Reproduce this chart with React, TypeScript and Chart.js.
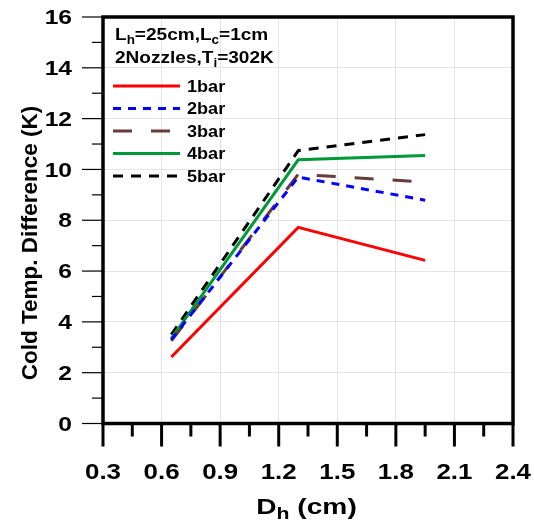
import { useEffect, useRef } from "react";
import { Chart, registerables } from "chart.js";

Chart.register(...registerables);

// ---- data ----
const dh = [0.65, 1.3, 1.95];
const bar1 = [2.62, 7.72, 6.42];
const bar2 = [3.3, 9.7, 8.79];
const bar3 = [3.25, 9.81, 9.5];
const bar4 = [3.35, 10.38, 10.55];
const bar5 = [3.5, 10.74, 11.37];
const seriesLabels = ["1bar", "2bar", "3bar", "4bar", "5bar"];
const xTicks = [0.3, 0.6, 0.9, 1.2, 1.5, 1.8, 2.1, 2.4];
const xTickLabels = ["0.3", "0.6", "0.9", "1.2", "1.5", "1.8", "2.1", "2.4"];
const xMinorTicks = [0.45, 0.75, 1.05, 1.35, 1.65, 1.95, 2.25];
const yTicks = [0, 2, 4, 6, 8, 10, 12, 14, 16];
const yTickLabels = ["0", "2", "4", "6", "8", "10", "12", "14", "16"];
const yMinorTicks = [1, 3, 5, 7, 9, 11, 13, 15];

// ---- styles ----
const colors = ["#ff0000", "#0000ff", "#663b3b", "#00993a", "#000000"];
const dashes = [[], [8, 7], [19, 19], [], [10, 8]];

type Part = { t: string; sub?: boolean };
const FONT = '"Liberation Sans", Arial, sans-serif';

function drawRich(
  ctx: CanvasRenderingContext2D,
  parts: Part[],
  x: number,
  y: number,
  o: { size: number; sub?: number; subDy?: number; sx: number; align: "left" | "center" | "right" }
) {
  const subSize = o.sub ?? o.size * 0.7;
  const subDy = o.subDy ?? 4;
  const widths = parts.map((p) => {
    ctx.font = `bold ${p.sub ? subSize : o.size}px ${FONT}`;
    return ctx.measureText(p.t).width;
  });
  const total = widths.reduce((a, b) => a + b, 0) * o.sx;
  const start = o.align === "left" ? x : o.align === "center" ? x - total / 2 : x - total;
  ctx.save();
  ctx.translate(start, y);
  ctx.scale(o.sx, 1);
  ctx.textAlign = "left";
  ctx.textBaseline = "alphabetic";
  ctx.fillStyle = "#000";
  let cx = 0;
  parts.forEach((p, i) => {
    ctx.font = `bold ${p.sub ? subSize : o.size}px ${FONT}`;
    ctx.fillText(p.t, cx, p.sub ? subDy : 0);
    cx += widths[i];
  });
  ctx.restore();
}

const decorPlugin = {
  id: "decor",
  afterDraw(chart: any) {
    const ctx: CanvasRenderingContext2D = chart.ctx;
    const xs = chart.scales.x;
    const ys = chart.scales.y;
    const { left, right, top, bottom } = chart.chartArea;
    ctx.save();
    // frame
    ctx.strokeStyle = "#000";
    ctx.lineWidth = 3.5;
    ctx.strokeRect(left, top, right - left, bottom - top);

    // bottom ticks
    ctx.lineWidth = 3;
    ctx.lineCap = "butt";
    xTicks.forEach((v) => {
      const px = xs.getPixelForValue(v);
      ctx.beginPath();
      ctx.moveTo(px, bottom);
      ctx.lineTo(px, bottom + 23);
      ctx.stroke();
    });
    xMinorTicks.forEach((v) => {
      const px = xs.getPixelForValue(v);
      ctx.beginPath();
      ctx.moveTo(px, bottom);
      ctx.lineTo(px, bottom + 13);
      ctx.stroke();
    });
    // left ticks
    ctx.lineWidth = 1.2;
    yTicks.forEach((v) => {
      const py = ys.getPixelForValue(v);
      ctx.beginPath();
      ctx.moveTo(left - 21, py);
      ctx.lineTo(left, py);
      ctx.stroke();
    });
    yMinorTicks.forEach((v) => {
      const py = ys.getPixelForValue(v);
      ctx.beginPath();
      ctx.moveTo(left - 11, py);
      ctx.lineTo(left, py);
      ctx.stroke();
    });

    // tick labels
    xTicks.forEach((v, i) => {
      drawRich(ctx, [{ t: xTickLabels[i] }], xs.getPixelForValue(v), 478.5, {
        size: 22.5,
        sx: 1.15,
        align: "center",
      });
    });
    yTicks.forEach((v, i) => {
      drawRich(ctx, [{ t: yTickLabels[i] }], 72, ys.getPixelForValue(v) + 7.2, {
        size: 20.5,
        sx: 1.2,
        align: "right",
      });
    });

    // axis titles
    drawRich(
      ctx,
      [{ t: "D" }, { t: "h", sub: true }, { t: " (cm)" }],
      306.5,
      514,
      { size: 22.5, sub: 17, subDy: 5, sx: 1.25, align: "center" }
    );
    ctx.save();
    ctx.translate(36.5, 243);
    ctx.rotate(-Math.PI / 2);
    drawRich(ctx, [{ t: "Cold Temp. Difference (K)" }], 0, 0, { size: 22.5, sx: 1.0, align: "center" });
    ctx.restore();

    // annotation
    drawRich(
      ctx,
      [{ t: "L" }, { t: "h", sub: true }, { t: "=25cm,L" }, { t: "c", sub: true }, { t: "=1cm" }],
      115,
      40,
      { size: 17, sub: 12, subDy: 4, sx: 1.12, align: "left" }
    );
    drawRich(
      ctx,
      [{ t: "2Nozzles,T" }, { t: "i", sub: true }, { t: "=302K" }],
      115,
      62.5,
      { size: 17, sub: 12, subDy: 4, sx: 1.12, align: "left" }
    );

    // legend
    seriesLabels.forEach((lab, i) => {
      const ly = 86 + i * 22.5;
      ctx.save();
      ctx.strokeStyle = colors[i];
      ctx.lineWidth = 3;
      ctx.setLineDash(dashes[i]);
      ctx.beginPath();
      ctx.moveTo(113, ly);
      ctx.lineTo(180, ly);
      ctx.stroke();
      ctx.restore();
      drawRich(ctx, [{ t: lab }], 187, ly + 5.7, { size: 16, sx: 1.13, align: "left" });
    });
    ctx.restore();
  },
};

export default function App() {
  const ref = useRef<HTMLCanvasElement | null>(null);
  useEffect(() => {
    if (!ref.current) return;
    const series = [bar1, bar2, bar3, bar4, bar5];
    const chart = new Chart(ref.current, {
      type: "line",
      data: {
        datasets: series.map((s, i) => ({
          label: seriesLabels[i],
          data: s.map((v, j) => ({ x: dh[j], y: v })),
          borderColor: colors[i],
          backgroundColor: colors[i],
          borderWidth: 3,
          borderDash: dashes[i],
          pointRadius: 0,
          tension: 0,
          fill: false,
        })),
      },
      options: {
        responsive: false,
        maintainAspectRatio: false,
        animation: false,
        layout: { padding: { top: 17, right: 21, left: 0, bottom: 0 } },
        plugins: { legend: { display: false }, tooltip: { enabled: false } },
        scales: {
          x: {
            type: "linear",
            min: 0.3,
            max: 2.4,
            ticks: { display: false },
            grid: { color: "#e4e4e4", lineWidth: 1, drawTicks: false },
            border: { display: false },
            afterBuildTicks: (s: any) => {
              s.ticks = xTicks.map((v) => ({ value: v }));
            },
            afterFit: (s: any) => {
              s.height = 99.5;
            },
          },
          y: {
            type: "linear",
            min: 0,
            max: 16,
            ticks: { display: false },
            grid: { color: "#e4e4e4", lineWidth: 1, drawTicks: false },
            border: { display: false },
            afterBuildTicks: (s: any) => {
              s.ticks = yTicks.map((v) => ({ value: v }));
            },
            afterFit: (s: any) => {
              s.width = 103;
            },
          },
        },
      },
      plugins: [decorPlugin],
    });
    return () => chart.destroy();
  }, []);
  return (
    <div style={{ position: "absolute", left: 0, top: 0, width: 534, height: 523, background: "#fff" }}>
      <canvas ref={ref} width={534} height={523} style={{ display: "block" }} />
    </div>
  );
}
